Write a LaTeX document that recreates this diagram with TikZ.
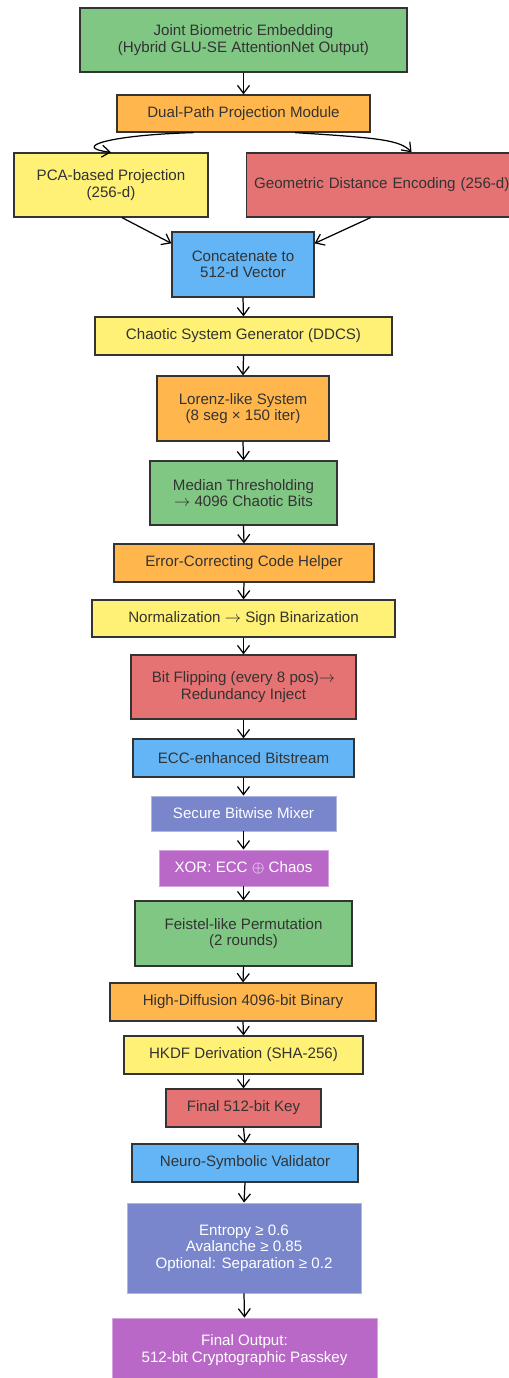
\documentclass[tikz,border=0pt]{standalone}
\usepackage{fontspec}
\setmainfont{Liberation Sans}
\usepackage{amsmath}
\usepackage{amssymb}
\usepackage{tikz}
\usetikzlibrary{
	arrows.meta,
	positioning,
	calc
}
\usepackage{xcolor}
\definecolor{boxgreen}{HTML}{81C784}
\definecolor{boxorange}{HTML}{FFB74D}
\definecolor{boxyellow}{HTML}{FFF176}
\definecolor{boxred}{HTML}{E57373}
\definecolor{boxblue}{HTML}{64B5F6}
\definecolor{boxindigo}{HTML}{7986CB}
\definecolor{boxpurple}{HTML}{BA68C8}
\definecolor{edgegray}{HTML}{333333}

\begin{document}
\begin{tikzpicture}[
		x=0.02cm, y=-0.02cm,
		>={Straight Barb[length=1.6mm,width=2.4mm]},
		stage/.style={
			rectangle,
			draw=edgegray,
			line width=0.7pt,
			text=edgegray,
			align=center,
			inner sep=2pt,
			font=\fontsize{8.6}{9.4}\selectfont
		},
		lightstage/.style={
			stage,
			draw=#1!60!white,
			line width=0.5pt,
			fill=#1,
			text=white
		},
		flow/.style={
			->,
			line width=0.7pt,
			black
		}
		]
		
		\useasboundingbox (0,0) rectangle (509,1378);
		
		% Embedding and projection
		\node[stage, fill=boxgreen, minimum width=6.54cm, minimum height=1.28cm] (embed) at (243.5,40) {Joint Biometric Embedding\\(Hybrid GLU-SE AttentionNet Output)};
		\node[stage, fill=boxorange, minimum width=5.06cm, minimum height=0.74cm] (dual) at (243.5,113.5) {Dual-Path Projection Module};
		\node[stage, fill=boxyellow, minimum width=3.88cm, minimum height=1.28cm] (pca) at (111,185) {PCA-based Projection\\(256-d)};
		\node[stage, fill=boxred, minimum height=1.28cm, inner xsep=0.15cm, text width=6.3cm, align=left, anchor=west] (geo) at (246,185) {Geometric Distance Encoding (256-d)};
		\node[stage, fill=boxblue, minimum width=2.84cm, minimum height=1.30cm] (concat) at (243,264.5) {Concatenate to\\512-d Vector};
		
		% Chaotic generator
		\node[stage, fill=boxyellow, minimum width=5.94cm, minimum height=0.76cm] (ddcs) at (243.5,336) {Chaotic System Generator (DDCS)};
		\node[stage, fill=boxorange, minimum width=3.44cm, minimum height=1.30cm] (lorenz) at (243,408.5) {Lorenz-like System\\(8 seg × 150 iter)};
		\node[stage, fill=boxgreen, minimum width=3.74cm, minimum height=1.28cm] (median) at (243.5,493) {Median Thresholding\\$\rightarrow$ 4096 Chaotic Bits};
		
		% Error correction
		\node[stage, fill=boxorange, minimum width=5.2cm, minimum height=0.76cm] (ecc) at (244,563) {Error-Correcting Code Helper};
		\node[stage, fill=boxyellow, minimum width=6.06cm, minimum height=0.74cm] (norm) at (243.5,618.5) {Normalization $\rightarrow$ Sign Binarization};
		\node[stage, fill=boxred, minimum width=4.5cm, minimum height=1.28cm] (flip) at (243.5,687) {Bit Flipping (every 8 pos)$\rightarrow$\\Redundancy Inject};
		\node[stage, fill=boxblue, minimum width=4.42cm, minimum height=0.76cm] (eccbits) at (243.5,758) {ECC-enhanced Bitstream};
		
		% Mixing
		\node[lightstage=boxindigo, minimum width=3.7cm, minimum height=0.70cm] (mixer) at (243.5,813.5) {Secure Bitwise Mixer};
		\node[lightstage=boxpurple, minimum width=3.38cm, minimum height=0.72cm] (xor) at (243.5,868) {XOR: ECC $\oplus$ Chaos};
		\node[stage, fill=boxgreen, minimum width=4.34cm, minimum height=1.30cm] (feistel) at (243.5,933.5) {Feistel-like Permutation\\(2 rounds)};
		\node[stage, fill=boxorange, minimum width=5.32cm, minimum height=0.76cm] (diffusion) at (243,1002) {High-Diffusion 4096-bit Binary};
		
		% Key derivation and validation
		\node[stage, fill=boxyellow, minimum width=4.78cm, minimum height=0.76cm] (hkdf) at (243.5,1055) {HKDF Derivation (SHA-256)};
		\node[stage, fill=boxred, minimum width=3.1cm, minimum height=0.76cm] (key) at (243.5,1108) {Final 512-bit Key};
		\node[stage, fill=boxblue, minimum width=4.52cm, minimum height=0.76cm] (validator) at (245,1163) {Neuro-Symbolic Validator};
		\node[lightstage=boxindigo, minimum width=4.68cm, minimum height=1.80cm] (rules) at (244,1248) {Entropy ≥ 0.6\\Avalanche ≥ 0.85\\Optional: Separation ≥ 0.2};
		\node[lightstage=boxpurple, minimum width=5.3cm, minimum height=1.28cm] (output) at (244.5,1350) {Final Output:\\512-bit Cryptographic Passkey};
		
		% Connections
		\draw[flow] (embed.south) -- (dual.north);
		\draw[flow] ([xshift=-1cm]dual.south) .. controls (110,135) and (70,147) .. (pca.north);
		\draw[flow] ([xshift=1.03cm]dual.south) .. controls (380,138) and (400,140) .. (geo.north);
		\draw[flow] ([xshift=0.22cm]pca.south) -- ([yshift=-0.24cm]concat.north west);
		\draw[flow] ([xshift=-0.82cm]geo.south) -- ([yshift=-0.24cm]concat.north east);
		\foreach \a/\b in {concat/ddcs, ddcs/lorenz, lorenz/median, median/ecc, ecc/norm,
			norm/flip, flip/eccbits, eccbits/mixer, mixer/xor, xor/feistel,
			feistel/diffusion, diffusion/hkdf, hkdf/key, key/validator,
			validator/rules, rules/output}
		\draw[flow] (\a.south) -- (\b.north);
		
	\end{tikzpicture}
\end{document}
